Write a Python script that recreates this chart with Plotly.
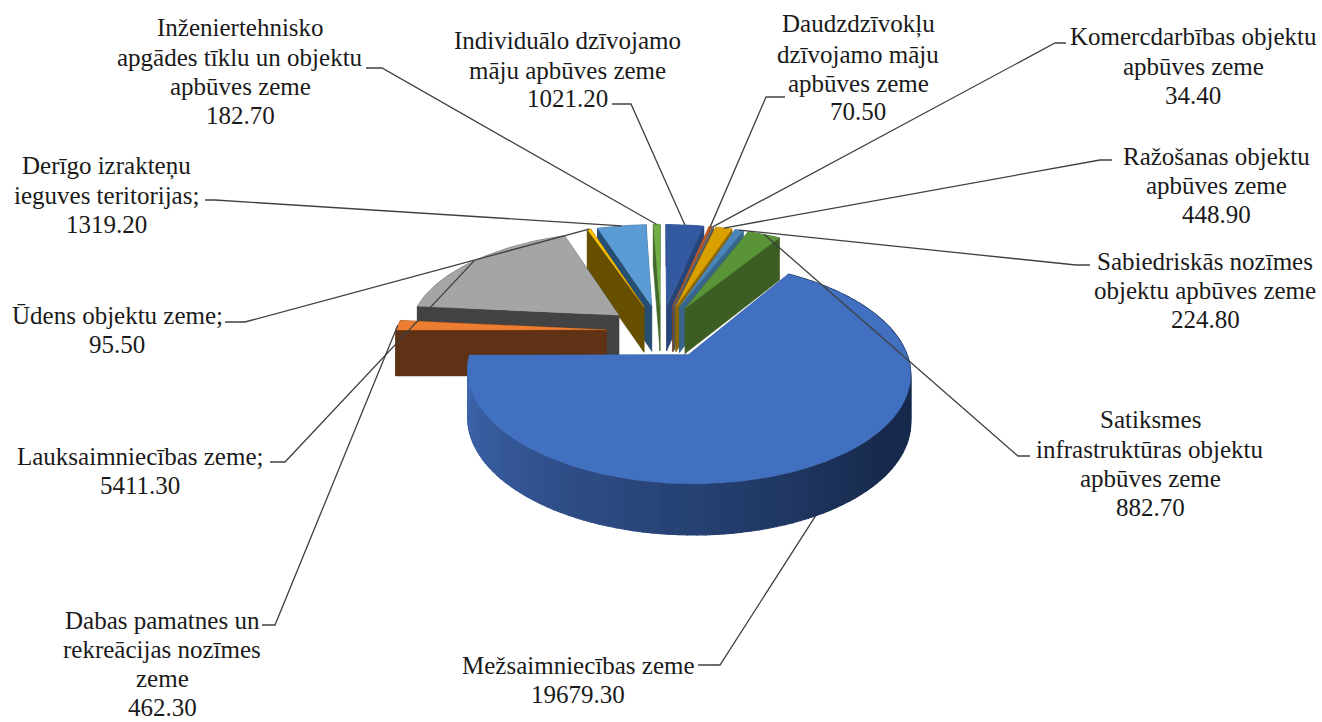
import math
import plotly.graph_objects as go

# ---- data ----
categories = ["Individuālo dzīvojamo māju apbūves zeme", "Daudzdzīvokļu dzīvojamo māju apbūves zeme",
              "Komercdarbības objektu apbūves zeme", "Ražošanas objektu apbūves zeme",
              "Sabiedriskās nozīmes objektu apbūves zeme", "Satiksmes infrastruktūras objektu apbūves zeme",
              "Mežsaimniecības zeme", "Dabas pamatnes un rekreācijas nozīmes zeme", "Lauksaimniecības zeme",
              "Ūdens objektu zeme", "Derīgo izrakteņu ieguves teritorijas", "Inženiertehnisko apgādes tīklu un objektu apbūves zeme"]
values = [1021.2, 70.5, 34.4, 448.9, 224.8, 882.7, 19679.3, 462.3, 5411.3, 95.5, 1319.2, 182.7]
label_lines = [
    ["Individuālo dzīvojamo", "māju apbūves zeme", "1021.20"],
    ["Daudzdzīvokļu", "dzīvojamo māju", "apbūves zeme", "70.50"],
    ["Komercdarbības objektu", "apbūves zeme", "34.40"],
    ["Ražošanas objektu", "apbūves zeme", "448.90"],
    ["Sabiedriskās nozīmes", "objektu apbūves zeme", "224.80"],
    ["Satiksmes", "infrastruktūras objektu", "apbūves zeme", "882.70"],
    ["Mežsaimniecības zeme", "19679.30"],
    ["Dabas pamatnes un", "rekreācijas nozīmes", "zeme", "462.30"],
    ["Lauksaimniecības zeme;", "5411.30"],
    ["Ūdens objektu zeme;", "95.50"],
    ["Derīgo izrakteņu", "ieguves teritorijas;", "1319.20"],
    ["Inženiertehnisko", "apgādes tīklu un objektu", "apbūves zeme", "182.70"],
]

# ---- styles ----
top_colors = ["#335aa1", "#c55a2a", "#7f7f7f", "#d9a000", "#4a85b8", "#5a9438",
              "#4170c0", "#ed7d31", "#a5a5a5", "#ffc000", "#5b9bd5", "#70ad47"]
wall_colors = ["#264478", "#8a3f1c", "#555555", "#8c6a00", "#38658c", "#3c5e22",
               "#2a4a80", "#5f3115", "#434343", "#665000", "#274f73", "#43682b"]

# ---- projection ----
CX, CY = 661, 331
R, B = 211, 101
PERSP = 0.154
EXPLODE = 0.26
DEPTH = 46
FONT = "Liberation Serif"
FSIZE = 25
LINE_COLOR = "#404040"

# label layout: centre x, y of each text line
label_pos = [
    (567, [40, 70, 98]),
    (858, [24, 54, 83, 111]),
    (1193, [36, 66, 95]),
    (1216, [156, 185, 214]),
    (1205, [261, 290, 319]),
    (1150, [419, 449, 478, 507]),
    (578, [665, 694]),
    (162, [620, 649, 678, 707]),
    (140, [456, 485]),
    (117, [315, 344]),
    (106, [166, 195, 224]),
    (240, [27, 57, 86, 115]),
]
# leader lines: the start and elbow beside each label
leader_start = [
    ((612, 104), (631, 104)),
    ((785, 97), (766, 97)),
    ((1066, 43), (1055, 43)),
    ((1112, 160), (1100, 160)),
    ((1090, 265), (1076, 265)),
    ((1030, 456), (1018, 456)),
    ((698, 665), (720, 665)),
    ((262, 625), (275, 625)),
    ((270, 462), (285, 462)),
    ((225, 322), (245, 322)),
    ((205, 200), (215, 200)),
    ((366, 68), (382, 68)),
]


def project(wx, wy, down=0.0):
    p = 1.0 / (1.0 + PERSP * wy)
    return CX + R * wx * p, CY - B * wy * p + down * DEPTH * math.sqrt(p)


def rim_point(i, deg, down=0.0):
    a = math.radians(deg)
    m = math.radians(mids[i])
    ox, oy = EXPLODE * math.sin(m), EXPLODE * math.cos(m)
    return project(ox + math.sin(a), oy + math.cos(a), down)


def apex_point(i, down=0.0):
    m = math.radians(mids[i])
    return project(EXPLODE * math.sin(m), EXPLODE * math.cos(m), down)


def poly(points, fill, line_width=0.5):
    xs = [p[0] for p in points] + [points[0][0]]
    ys = [p[1] for p in points] + [points[0][1]]
    return go.Scatter(x=xs, y=ys, mode="lines", fill="toself", fillcolor=fill,
                      line=dict(color=fill, width=line_width), hoverinfo="skip",
                      showlegend=False)


def mix(c1, c2, t):
    a = [int(c1[k:k + 2], 16) for k in (1, 3, 5)]
    b = [int(c2[k:k + 2], 16) for k in (1, 3, 5)]
    return "#%02x%02x%02x" % tuple(round(a[k] + (b[k] - a[k]) * t) for k in range(3))


total = sum(values)
starts, ends, mids = [], [], []
acc = 0.0
for v in values:
    starts.append(acc / total * 360)
    acc += v
    ends.append(acc / total * 360)
    mids.append((starts[-1] + ends[-1]) / 2)


def arc(i, down=0.0, step=1.5):
    n = max(2, int((ends[i] - starts[i]) / step) + 1)
    return [rim_point(i, starts[i] + (ends[i] - starts[i]) * k / n, down) for k in range(n + 1)]


fig = go.Figure()
order = sorted(range(len(values)), key=lambda i: -math.cos(math.radians(mids[i])) * (EXPLODE + 0.5))
for i in order:
    # radial walls, the one further back first
    walls = sorted([starts[i], ends[i]], key=lambda d: -math.cos(math.radians(d)))
    for d in walls:
        fig.add_trace(poly([apex_point(i), rim_point(i, d), rim_point(i, d, 1), apex_point(i, 1)], wall_colors[i]))
    # outer rim
    span = ends[i] - starts[i]
    if span > 100:
        n = int(span / 2)
        for k in range(n):
            a0 = starts[i] + span * k / n
            a1 = starts[i] + span * (k + 1) / n
            t = min(1.0, max(0.0, (270 - (a0 + a1) / 2) / 140))
            col = mix("#4069b4", "#172a4d", t)
            fig.add_trace(poly([rim_point(i, a0), rim_point(i, a1), rim_point(i, a1, 1), rim_point(i, a0, 1)], col, 1.2))
    else:
        fig.add_trace(poly(arc(i) + arc(i, 1)[::-1], wall_colors[i]))
    # top face
    fig.add_trace(poly([apex_point(i)] + arc(i), top_colors[i], 0.3))

# leader lines, ending on the slice they describe
for i in range(len(values)):
    front = 1 if math.cos(math.radians(mids[i])) < -0.5 else 0
    ex, ey = rim_point(i, mids[i], front)
    s, e = leader_start[i]
    fig.add_trace(go.Scatter(x=[s[0], e[0], ex], y=[s[1], e[1], ey], mode="lines",
                             line=dict(color=LINE_COLOR, width=1.3), hoverinfo="skip", showlegend=False))

annotations = []
for lines, (cx, ys) in zip(label_lines, label_pos):
    for text, y in zip(lines, ys):
        annotations.append(dict(x=cx, y=y, xref="x", yref="y", text=text, showarrow=False,
                                xanchor="center", yanchor="middle",
                                font=dict(family=FONT, size=FSIZE, color="#1a1a1a")))

fig.update_layout(width=1322, height=722, autosize=False, margin=dict(l=0, r=0, t=0, b=0),
                  paper_bgcolor="white", plot_bgcolor="white", showlegend=False,
                  xaxis=dict(visible=False, range=[0, 1322], fixedrange=True),
                  yaxis=dict(visible=False, range=[722, 0], fixedrange=True),
                  annotations=annotations)
fig.write_html("out.html", config=dict(displayModeBar=False),
               post_script="document.body.style.margin='0';document.body.style.overflow='hidden';")
